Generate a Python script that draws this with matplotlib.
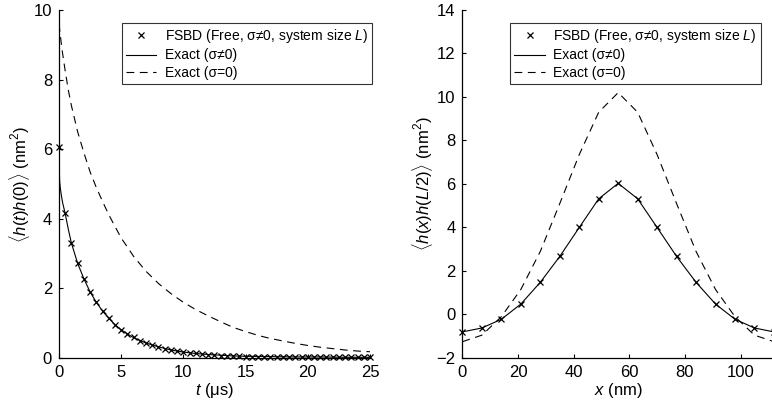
import numpy as np
import matplotlib
matplotlib.use('Agg')
import matplotlib.pyplot as plt

plt.rcParams['font.family'] = ['Liberation Sans', 'DejaVu Sans']
plt.rcParams['mathtext.fontset'] = 'custom'
plt.rcParams['mathtext.rm'] = 'Liberation Sans'
plt.rcParams['mathtext.it'] = 'Liberation Sans:italic'
plt.rcParams['mathtext.bf'] = 'Liberation Sans:bold'

### Left panel: time autocorrelation
t_fsbd = np.arange(0, 25.01, 0.5)
h_fsbd = [6.07, 4.17, 3.30, 2.72, 2.28, 1.90, 1.60, 1.35, 1.14, 0.96,
          0.81, 0.69, 0.59, 0.50, 0.43, 0.37, 0.32, 0.27, 0.23, 0.20,
          0.17, 0.15, 0.13, 0.11, 0.09, 0.08, 0.07, 0.06, 0.05, 0.05,
          0.04, 0.04, 0.03, 0.03, 0.03, 0.03, 0.03, 0.03, 0.03, 0.03,
          0.03, 0.03, 0.03, 0.03, 0.03, 0.03, 0.03, 0.03, 0.03, 0.03,
          0.04]

t_exact = [0, 0.02, 0.05, 0.1, 0.2, 0.3, 0.5, 0.75, 1, 1.5, 2, 2.5, 3, 3.5,
           4, 4.5, 5, 6, 7, 8, 9, 10, 11, 12, 13, 14, 15, 17, 19, 21, 23, 25]
h_exact = [6.05, 5.50, 5.10, 4.90, 4.65, 4.45, 4.15, 3.70, 3.30, 2.72, 2.28,
           1.90, 1.60, 1.35, 1.14, 0.96, 0.81, 0.58, 0.43, 0.32, 0.23, 0.17,
           0.13, 0.10, 0.08, 0.06, 0.05, 0.04, 0.03, 0.03, 0.02, 0.02]

t_free = [0, 0.25, 0.5, 0.75, 1, 1.5, 2, 2.5, 3, 3.5, 4, 4.5, 5, 6, 7, 8, 9,
          10, 11, 12, 13, 14, 15, 16, 17, 18, 19, 20, 21, 22, 23, 24, 25]
h_free = [9.60, 8.85, 8.25, 7.70, 7.25, 6.50, 5.90, 5.35, 4.90, 4.50, 4.12,
          3.78, 3.45, 2.92, 2.49, 2.14, 1.85, 1.60, 1.39, 1.21, 1.04, 0.88,
          0.76, 0.65, 0.56, 0.49, 0.42, 0.36, 0.31, 0.27, 0.23, 0.20, 0.18]

### Right panel: spatial correlation
x_pts = np.arange(0, 113, 7)
hx_fsbd = [-0.80, -0.62, -0.22, 0.48, 1.48, 2.67, 4.00, 5.32, 6.03,
           5.32, 4.00, 2.67, 1.48, 0.48, -0.22, -0.62, -0.80]
hx_free = [-1.25, -0.95, -0.10, 1.15, 2.90, 5.10, 7.35, 9.30, 10.20,
           9.30, 7.35, 5.10, 2.90, 1.15, -0.10, -0.95, -1.25]

labels = ['FSBD (Free, σ≠0, system size $L$)', 'Exact (σ≠0)', 'Exact (σ=0)']

fig = plt.figure(figsize=(7.72, 4.09), dpi=100)
ax1 = fig.add_axes([0.0764, 0.1247, 0.4028, 0.8509])
ax2 = fig.add_axes([0.599, 0.1247, 0.4035, 0.8509])

lw = 0.8
ms = 5

def style(ax):
    ax.spines['top'].set_visible(False)
    ax.spines['right'].set_visible(False)
    for s in ['left', 'bottom']:
        ax.spines[s].set_linewidth(0.9)
    ax.tick_params(direction='in', length=3, width=0.8, labelsize=12, pad=5)

# left
ax1.plot(t_fsbd, h_fsbd, 'x', color='k', ms=ms, mew=0.9, clip_on=False,
         label=labels[0])
ax1.plot(t_exact, h_exact, '-', color='k', lw=lw, label=labels[1])
ax1.plot(t_free, h_free, '--', color='k', lw=lw, dashes=(7, 5), label=labels[2])
ax1.set_xlim(0, 25)
ax1.set_ylim(0, 10)
ax1.set_xticks(range(0, 26, 5))
ax1.set_yticks(range(0, 11, 2))
ax1.set_xlabel('$t$ (μs)', fontsize=12, labelpad=1)
ax1.set_ylabel(r'$\langle\mathit{h(t)h(0)}\rangle$ (nm$^2$)', fontsize=12,
               labelpad=1)
style(ax1)

# right
ax2.plot(x_pts, hx_fsbd, 'x', color='k', ms=ms, mew=0.9, clip_on=False,
         label=labels[0])
ax2.plot(x_pts, hx_fsbd, '-', color='k', lw=lw, label=labels[1])
ax2.plot(x_pts, hx_free, '--', color='k', lw=lw, dashes=(7, 5), label=labels[2])
ax2.set_xlim(0, 112)
ax2.set_ylim(-2, 14)
ax2.set_xticks(range(0, 101, 20))
ax2.set_yticks(range(-2, 15, 2))
ax2.set_xlabel('$x$ (nm)', fontsize=12, labelpad=1)
ax2.set_ylabel(r'$\langle\mathit{h(x)h(L/2)}\rangle$ (nm$^2$)', fontsize=12,
               labelpad=1)
style(ax2)

for ax, anchor in [(ax1, (1.007, 0.963)), (ax2, (0.957, 0.963))]:
    leg = ax.legend(loc='upper right', bbox_to_anchor=anchor, fontsize=10,
                    frameon=True, fancybox=False, edgecolor='k',
                    handlelength=2.2, handletextpad=0.6, borderpad=0.3,
                    labelspacing=0.25, borderaxespad=0)
    leg.get_frame().set_linewidth(0.8)

plt.savefig('out.png', dpi=100)
